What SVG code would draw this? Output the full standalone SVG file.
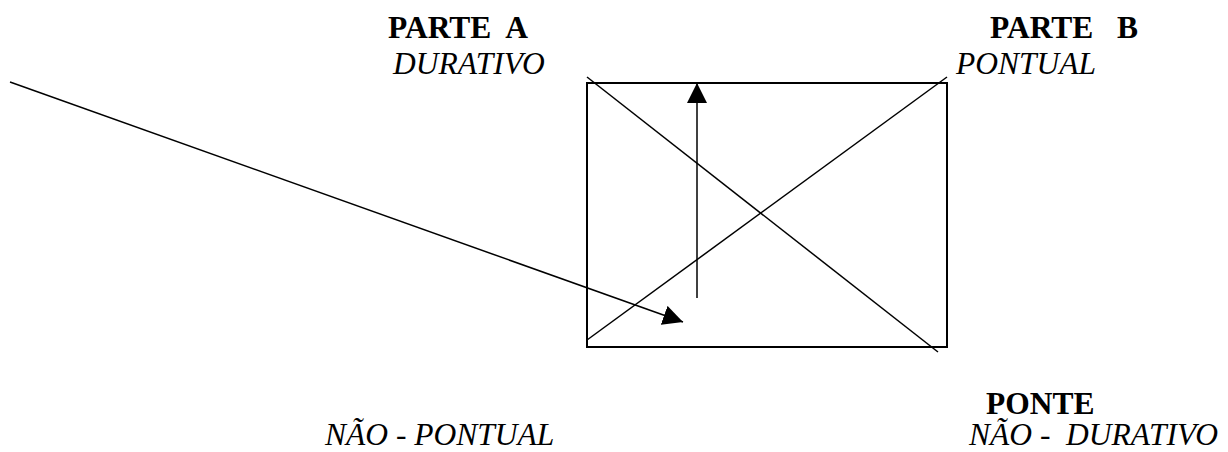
<svg xmlns="http://www.w3.org/2000/svg" width="1228" height="452" viewBox="0 0 1228 452">
<style>
.b{font-family:"Liberation Serif","Times New Roman",serif;font-size:31.5px;font-weight:bold;fill:#000}
.i{font-family:"Liberation Serif","Times New Roman",serif;font-size:31.5px;font-style:italic;fill:#000}
.ln{stroke:#000;stroke-width:1.5;fill:none}
</style>
<defs>
<marker id="ah" markerWidth="20" markerHeight="20" refX="20" refY="10" orient="auto" markerUnits="userSpaceOnUse">
<path d="M0,0 L20,10 L0,20 Z" fill="#000"/>
</marker>
</defs>
<g id="box">
<rect x="587" y="83" width="360" height="264" fill="none" stroke="#000" stroke-width="2"/>
</g>
<g id="connectors">
<line class="ln" x1="587" y1="77" x2="938" y2="352"/>
<line class="ln" x1="587" y1="340" x2="947" y2="77"/>
<line class="ln" x1="697" y1="298" x2="697" y2="83" marker-end="url(#ah)"/>
<line class="ln" x1="10" y1="82" x2="683" y2="322" marker-end="url(#ah)"/>
</g>
<g id="parteA">
<text class="b" x="388" y="38" xml:space="preserve">PARTE  A</text>
<text class="i" x="393" y="74">DURATIVO</text>
</g>
<g id="parteB">
<text class="b" x="990" y="38" xml:space="preserve">PARTE   B</text>
<text class="i" x="956" y="74">PONTUAL</text>
</g>
<g id="ponte">
<text class="b" x="986" y="414">PONTE</text>
<text class="i" x="969" y="445" xml:space="preserve">NÃO -  DURATIVO</text>
</g>
<g id="naoPontual">
<text class="i" x="325" y="445">NÃO - PONTUAL</text>
</g>
</svg>
